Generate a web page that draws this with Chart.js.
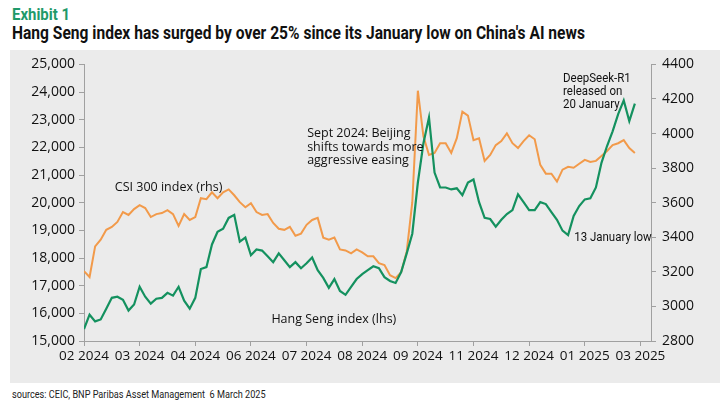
<!DOCTYPE html>
<html>
<head>
<meta charset="utf-8">
<script src="https://cdn.jsdelivr.net/npm/chart.js@4.4.1/dist/chart.umd.min.js"></script>
<style>
  body { margin: 0; width: 725px; height: 413px; background: #fff; position: relative; overflow: hidden;
         font-family: "Roboto", sans-serif; }
  #exhibit { position: absolute; left: 12px; top: 4px; font-size: 17px; font-weight: bold; color: #1f9a6a;
             transform: scaleX(0.88); transform-origin: left; }
  #title { position: absolute; left: 12px; top: 23px; font-size: 17.5px; font-weight: bold; color: #111; white-space: nowrap;
           transform: scaleX(0.89); transform-origin: left; }
  #panel { position: absolute; left: 10px; top: 50px; width: 710px; height: 333px; background: #ebebeb; }
  #src { position: absolute; left: 12px; top: 388px; font-size: 10.5px; color: #222; white-space: nowrap;
         transform: scaleX(0.87); transform-origin: left; }
</style>
</head>
<body>
<div id="exhibit">Exhibit 1</div>
<div id="title">Hang Seng index has surged by over 25% since its January low on China's AI news</div>
<div id="panel"><canvas id="myChart" width="710" height="333"></canvas></div>
<div id="src">sources: CEIC, BNP Paribas Asset Management&nbsp; 6 March 2025</div>
<script>
// x tick labels, one every 10 points
var xTickLabels = ["02 2024", "03 2024", "04 2024", "06 2024", "07 2024", "08 2024",
                   "09 2024", "11 2024", "12 2024", "01 2025", "03 2025"];

// Hang Seng index (lhs)
var hangSeng = [15430, 15950, 15710, 15780, 16170, 16560, 16600, 16490, 16100, 16320,
                16960, 16600, 16350, 16530, 16560, 16740, 16640, 16960, 16460, 16170,
                16560, 17600, 17670, 18490, 18950, 19060, 19450, 19560, 18590, 18740,
                18100, 18310, 18270, 18060, 17850, 18170, 17920, 17670, 17850, 17630,
                17810, 18020, 17560, 17280, 16920, 17240, 16810, 16670, 16960, 17240,
                17420, 17560, 17700, 17630, 17310, 17170, 17100, 17490, 18170, 18880,
                20730, 22150, 23080, 21090, 20550, 20550, 20480, 20520, 20270, 20730,
                20840, 20020, 19450, 19410, 19130, 19380, 19590, 19730, 20300, 20020,
                19730, 19730, 20020, 19950, 19660, 19380, 18990, 18830, 19520, 19880,
                20120, 20160, 20550, 21440, 22050, 22580, 23200, 23700, 22950, 23580];

// CSI 300 index (rhs)
var csi300 = [3204, 3170, 3347, 3386, 3443, 3460, 3489, 3546, 3529, 3563,
              3586, 3569, 3517, 3534, 3540, 3557, 3534, 3466, 3534, 3500,
              3517, 3626, 3620, 3660, 3626, 3660, 3677, 3643, 3603, 3574,
              3597, 3546, 3529, 3534, 3483, 3449, 3443, 3460, 3409, 3421,
              3472, 3500, 3512, 3398, 3386, 3398, 3330, 3324, 3307, 3330,
              3313, 3290, 3290, 3250, 3239, 3181, 3164, 3198, 3318, 3603,
              4248, 3984, 3876, 3888, 3944, 3944, 3888, 3973, 4127, 4104,
              3962, 3973, 3842, 3876, 3933, 3956, 4001, 3944, 3916, 3956,
              3990, 3967, 3819, 3768, 3768, 3722, 3791, 3808, 3802, 3825,
              3848, 3836, 3842, 3870, 3899, 3933, 3944, 3962, 3916, 3888];

var greenCol = "#14915f";
var orangeCol = "#f29a4a";
var axisCol = "#a0a0a0";
var tickFont = { family: "'Open Sans', sans-serif", size: 14 };
var xTickFont = { family: "'Open Sans', sans-serif", size: 13.5 };

// text notes: anchored to x index and a value on one of the y axes
var plainFont = "12.5px 'Open Sans', sans-serif";
var narrowFont = "13.5px Roboto, sans-serif";
var notes = [
  { lines: ["CSI 300 index (rhs)"], x: 15.2, axis: "y1", y: 3688, align: "center", font: plainFont, sx: 1, lh: 13.5 },
  { lines: ["Sept 2024: Beijing", "shifts towards more", "aggressive easing"], x: 40.1, axis: "y1", y: 4000, align: "left", font: plainFont, sx: 1, lh: 13.5 },
  { lines: ["DeepSeek-R1", "released on", "20 January"], x: 86.1, axis: "y1", y: 4316, align: "left", font: narrowFont, sx: 0.85, lh: 12.8 },
  { lines: ["13 January low"], x: 88.1, axis: "y", y: 18720, align: "left", font: narrowFont, sx: 0.85, lh: 13 },
  { lines: ["Hang Seng index (lhs)"], x: 44.9, axis: "y", y: 15780, align: "center", font: plainFont, sx: 1, lh: 13 }
];

var notesPlugin = {
  id: "notes",
  afterDatasetsDraw: function (chart) {
    var ctx = chart.ctx;
    notes.forEach(function (n) {
      var px = chart.scales.x.getPixelForValue(n.x);
      var py = chart.scales[n.axis].getPixelForValue(n.y);
      ctx.save();
      ctx.fillStyle = "#111";
      ctx.font = n.font;
      ctx.textBaseline = "middle";
      ctx.textAlign = n.align;
      ctx.translate(px, py);
      ctx.scale(n.sx, 1);
      n.lines.forEach(function (t, k) {
        ctx.fillText(t, 0, k * n.lh);
      });
      ctx.restore();
    });
  }
};

new Chart("myChart", {
  type: "line",
  data: {
    datasets: [{
      label: "Hang Seng index (lhs)",
      data: hangSeng.map(function (v, i) { return { x: i, y: v }; }),
      borderColor: greenCol,
      borderWidth: 2.2,
      pointRadius: 0,
      yAxisID: "y"
    }, {
      label: "CSI 300 index (rhs)",
      data: csi300.map(function (v, i) { return { x: i, y: v }; }),
      borderColor: orangeCol,
      borderWidth: 2,
      pointRadius: 0,
      yAxisID: "y1"
    }]
  },
  options: {
    responsive: false,
    animation: false,
    layout: { padding: { top: 10 } },
    plugins: { legend: { display: false }, tooltip: { enabled: false } },
    scales: {
      x: {
        type: "linear",
        min: 0,
        max: 101.9,
        afterBuildTicks: function (axis) {
          axis.ticks = xTickLabels.map(function (_, k) { return { value: k * 10 }; });
        },
        afterFit: function (axis) { axis.height = 42; },
        ticks: {
          autoSkip: false,
          maxRotation: 0,
          color: "#111",
          font: xTickFont,
          padding: 2,
          callback: function (v) { return xTickLabels[Math.round(v / 10)]; }
        },
        grid: { drawOnChartArea: false, tickLength: 5, color: axisCol },
        border: { color: axisCol }
      },
      y: {
        position: "left",
        min: 15000,
        max: 25000,
        afterFit: function (axis) { axis.width = 74; },
        ticks: {
          stepSize: 1000,
          color: "#111",
          font: tickFont,
          padding: 4,
          callback: function (v) { return v.toLocaleString("en-US"); }
        },
        grid: { drawOnChartArea: false, tickLength: 5, color: axisCol },
        border: { color: axisCol }
      },
      y1: {
        position: "right",
        min: 2800,
        max: 4400,
        afterFit: function (axis) { axis.width = 69; },
        ticks: {
          stepSize: 200,
          color: "#111",
          font: tickFont,
          padding: 6,
          callback: function (v) { return String(v); }
        },
        grid: { drawOnChartArea: false, tickLength: 5, color: axisCol },
        border: { color: axisCol }
      }
    }
  },
  plugins: [notesPlugin]
});
</script>
</body>
</html>
